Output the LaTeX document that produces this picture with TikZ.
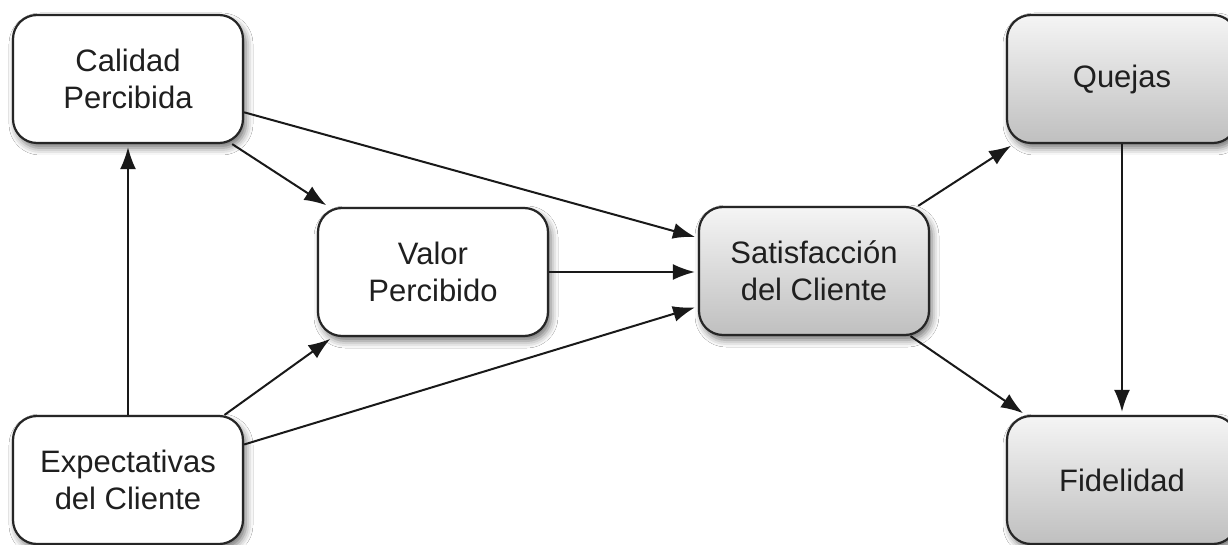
\documentclass[tikz,border=0pt]{standalone}
\usepackage{fontspec}
\setmainfont{Liberation Sans}
\usetikzlibrary{arrows.meta,shadows.blur}
\tikzset{
  box/.style={draw=black!85, line width=1.1pt, rounded corners=12pt,
    minimum width=115pt, minimum height=64pt, align=center,
    font=\fontsize{15.5}{18.5}\selectfont, text=black!88,
    blur shadow={shadow xshift=1.5pt, shadow yshift=-2.5pt, shadow blur radius=3.5pt, shadow opacity=55}},
  whitebox/.style={box, fill=white},
  graybox/.style={box, top color=black!4, bottom color=black!25},
  arr/.style={draw=black!90, line width=1pt, shorten >=1.5pt, -{Latex[length=11pt,width=8pt]}}
}
\begin{document}
\begin{tikzpicture}[x=0.5pt,y=-0.5pt]
\useasboundingbox (0,0) rectangle (1228,545);
\clip (0,0) rectangle (1228,545);
\fill[white] (0,0) rectangle (1228,545);
\node[whitebox] (cal) at (128,79) {Calidad\\Percibida};
\node[whitebox] (val) at (433,272) {Valor\\Percibido};
\node[graybox] (sat) at (814,271) {Satisfacción\\del Cliente};
\node[graybox] (que) at (1122,79) {Quejas};
\node[graybox] (fid) at (1122,480) {Fidelidad};
\node[whitebox] (exp) at (128,480) {Expectativas\\del Cliente};
\draw[arr] (exp.north) -- (cal.south);
\draw[arr] (cal.-16.5) -- (sat.164);
\draw[arr] (cal.-32.6) -- (val.148);
\draw[arr] (val.east) -- (sat.west |- val.east);
\draw[arr] (exp.34) -- (val.213.5);
\draw[arr] (exp.17) -- (sat.197);
\draw[arr] (sat.32.4) -- (que.211.4);
\draw[arr] (sat.-34) -- (fid.146.6);
\draw[arr] (que.south) -- (fid.north);
\end{tikzpicture}
\end{document}
